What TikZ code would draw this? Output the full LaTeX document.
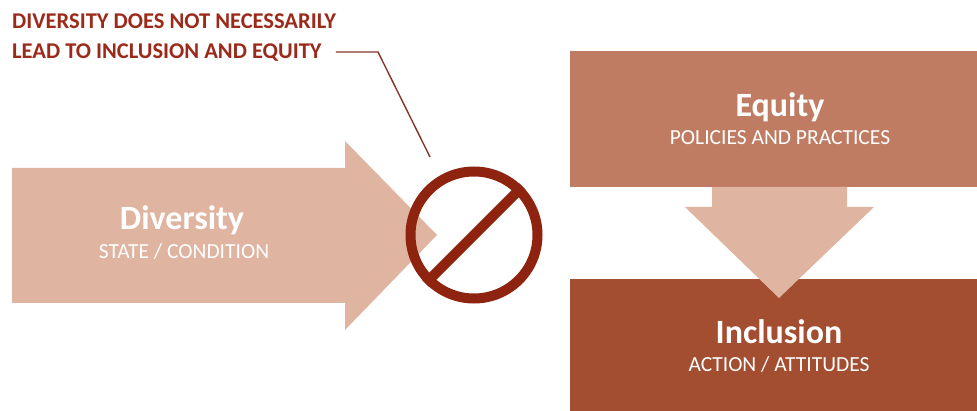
\documentclass[tikz,border=0pt]{standalone}
\usepackage{fontspec}
\setmainfont{Carlito}
\definecolor{lightarr}{HTML}{DFB4A0}
\definecolor{equitycol}{HTML}{C07C62}
\definecolor{inclcol}{HTML}{A34D31}
\definecolor{darkred}{HTML}{8E2310}
\definecolor{headred}{HTML}{9B2A1A}
\tikzset{
  title/.style={text=white,font=\bfseries\fontsize{34}{36}\selectfont,anchor=base,inner sep=0pt},
  sub/.style={text=white,font=\fontsize{21.5}{23}\selectfont,anchor=base,inner sep=0pt},
  headline/.style={text=headred,font=\bfseries\fontsize{22.5}{24}\selectfont,anchor=base west,inner sep=0pt},
}
\begin{document}
\begin{tikzpicture}[x=1pt,y=-1pt]
\useasboundingbox (0,0) rectangle (977,411);
% Diversity arrow
\fill[lightarr] (12,168) -- (345,168) -- (345,141) -- (437,235) -- (345,330) -- (345,303) -- (12,303) -- cycle;
\node[title] (div) at (182,230) {Diversity};
\node[sub] (divs) at (184,259) {STATE / CONDITION};
% Equity box
\fill[equitycol] (570,51) rectangle (977,187);
\node[title] (eq) at (780,117) {Equity};
\node[sub] (eqs) at (780,145) {POLICIES AND PRACTICES};
% Inclusion box
\fill[inclcol] (570,279) rectangle (977,411);
% down arrow
\fill[lightarr] (712,187) -- (847,187) -- (847,207) -- (874,207) -- (779,298) -- (685,207) -- (712,207) -- cycle;
\node[title] (inc) at (779,344) {Inclusion};
\node[sub] (incs) at (779,372) {ACTION / ATTITUDES};
% no sign
\node[circle,draw=darkred,line width=10pt,minimum size=127pt,inner sep=0pt] (no) at (474,235) {};
\draw[darkred,line width=10pt] (no.45) -- (no.225);
% headline
\node[headline] (h1) at (12,29) {DIVERSITY DOES NOT NECESSARILY};
\node[headline] (h2) at (12,59) {LEAD TO INCLUSION AND EQUITY};
\coordinate (bend) at (378,52);
\coordinate (tipc) at (430,157);
\draw[darkred!85!black!90,line width=1.4pt] (h2.east |- bend) ++(14,0) -- (bend) -- (tipc);
\end{tikzpicture}
\end{document}
